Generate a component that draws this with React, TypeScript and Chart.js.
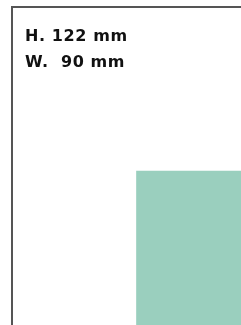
import React, { useEffect, useRef } from "react";
import { Chart, registerables } from "chart.js";

Chart.register(...registerables);

const categories = ["", "Box"];
const heights = [null, 48.4];
const labelLines = ["H. 122 mm", "W.  90 mm"];

const textPlugin = {
  id: "sizeText",
  afterDraw(chart: any) {
    const ctx = chart.ctx;
    ctx.save();
    ctx.fillStyle = "#111111";
    ctx.font = "bold 16px 'DejaVu Sans'";
    try { (ctx as any).letterSpacing = "0.6px"; } catch (e) {}
    ctx.textBaseline = "alphabetic";
    ctx.textAlign = "left";
    labelLines.forEach((t, i) => {
      ctx.fillText(t, 25, 41 + i * 26);
    });
    ctx.restore();
  },
};

export default function App() {
  const ref = useRef<HTMLCanvasElement | null>(null);
  useEffect(() => {
    if (!ref.current) return;
    const chart = new Chart(ref.current, {
      type: "bar",
      data: {
        labels: categories,
        datasets: [
          {
            data: heights,
            backgroundColor: "#9acfbe",
            borderWidth: 0,
            barPercentage: 1,
            categoryPercentage: 1,
          },
        ],
      },
      options: {
        animation: false,
        responsive: true,
        maintainAspectRatio: false,
        layout: { padding: { left: 12, top: 7, right: 0, bottom: 1 } },
        plugins: { legend: { display: false }, tooltip: { enabled: false }, title: { display: false } },
        scales: {
          x: {
            position: "top",
            ticks: { display: false },
            grid: { display: false, drawTicks: false },
            border: { display: true, color: "#555555", width: 2 },
          },
          y: {
            min: 0,
            max: 100,
            ticks: { display: false },
            grid: { display: false, drawTicks: false },
            border: { display: true, color: "#555555", width: 2 },
          },
        },
      },
      plugins: [textPlugin],
    });
    return () => chart.destroy();
  }, []);
  return (
    <div style={{ position: "fixed", left: 0, top: 0, width: 241, height: 325, overflow: "hidden", background: "#fff" }}>
      <div style={{ position: "relative", width: 261, height: 326 }}>
        <canvas ref={ref} />
      </div>
    </div>
  );
}
